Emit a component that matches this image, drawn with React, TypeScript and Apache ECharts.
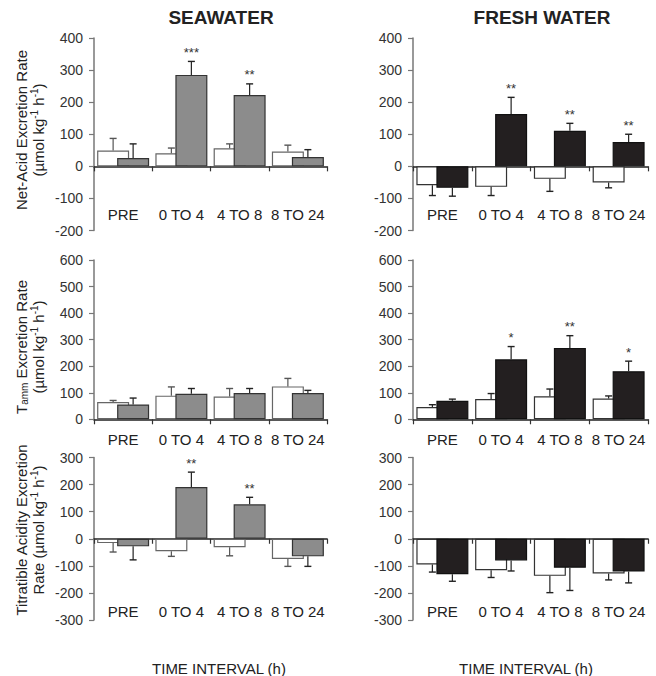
import React, { useEffect, useRef } from 'react';
import * as echarts from 'echarts';

// ---------- data ----------
const categories = ['PRE', '0 TO 4', '4 TO 8', '8 TO 24'];

const naeRange = [-200, 400];
const tammRange = [0, 600];
const taRange = [-300, 300];

// Seawater – net-acid excretion
const swNaeControl = [49, 41, 56, 46];
const swNaeControlErr = [38, 16, 14, 20];
const swNaeTreated = [26, 285, 222, 29];
const swNaeTreatedErr = [44, 42, 35, 23];
const swNaeStars = ['', '***', '**', ''];

// Fresh water – net-acid excretion
const fwNaeControl = [-59, -64, -39, -50];
const fwNaeControlErr = [32, 27, 39, 17];
const fwNaeTreated = [-67, 163, 111, 76];
const fwNaeTreatedErr = [26, 52, 23, 24];
const fwNaeStars = ['', '**', '**', '**'];

// Seawater – Tamm excretion
const swTammControl = [65, 89, 86, 124];
const swTammControlErr = [6, 33, 30, 30];
const swTammTreated = [56, 96, 99, 99];
const swTammTreatedErr = [24, 20, 17, 10];
const swTammStars = ['', '', '', ''];

// Fresh water – Tamm excretion
const fwTammControl = [46, 76, 87, 78];
const fwTammControlErr = [9, 21, 27, 10];
const fwTammTreated = [70, 226, 269, 181];
const fwTammTreatedErr = [6, 48, 46, 38];
const fwTammStars = ['', '*', '**', '*'];

// Seawater – titratable acidity
const swTaControl = [-16, -46, -31, -75];
const swTaControlErr = [33, 19, 32, 27];
const swTaTreated = [-28, 191, 127, -65];
const swTaTreatedErr = [50, 55, 26, 37];
const swTaStars = ['', '**', '**', ''];

// Fresh water – titratable acidity
const fwTaControl = [-95, -116, -137, -128];
const fwTaControlErr = [28, 27, 62, 24];
const fwTaTreated = [-131, -80, -107, -121];
const fwTaTreatedErr = [26, 39, 84, 42];
const fwTaStars = ['', '', '', ''];

const columnTitles = ['SEAWATER', 'FRESH WATER'];
const xAxisTitle = 'TIME INTERVAL (h)';

// ---------- layout ----------
const FONT = '"Liberation Sans", Arial, Helvetica, sans-serif';
const colLeft = [94, 413];
const colWidth = [233, 235];
const rowTop = [38, 260, 457.5];
const rowHeight = [192.5, 159.3, 162.5];
const labelMargin = [-24, 13, -16];

const panels = [
  { col: 0, row: 0, range: naeRange, ctrl: swNaeControl, ctrlErr: swNaeControlErr, trt: swNaeTreated, trtErr: swNaeTreatedErr, stars: swNaeStars },
  { col: 1, row: 0, range: naeRange, ctrl: fwNaeControl, ctrlErr: fwNaeControlErr, trt: fwNaeTreated, trtErr: fwNaeTreatedErr, stars: fwNaeStars },
  { col: 0, row: 1, range: tammRange, ctrl: swTammControl, ctrlErr: swTammControlErr, trt: swTammTreated, trtErr: swTammTreatedErr, stars: swTammStars },
  { col: 1, row: 1, range: tammRange, ctrl: fwTammControl, ctrlErr: fwTammControlErr, trt: fwTammTreated, trtErr: fwTammTreatedErr, stars: fwTammStars },
  { col: 0, row: 2, range: taRange, ctrl: swTaControl, ctrlErr: swTaControlErr, trt: swTaTreated, trtErr: swTaTreatedErr, stars: swTaStars },
  { col: 1, row: 2, range: taRange, ctrl: fwTaControl, ctrlErr: fwTaControlErr, trt: fwTaTreated, trtErr: fwTaTreatedErr, stars: fwTaStars },
];

function buildOption() {
  const grid: any[] = [];
  const xAxis: any[] = [];
  const yAxis: any[] = [];
  const series: any[] = [];

  panels.forEach((p, i) => {
    const dark = p.col === 1;
    grid.push({ left: colLeft[p.col], top: rowTop[p.row], width: colWidth[p.col], height: rowHeight[p.row], containLabel: false });
    // zero line axis with ticks
    xAxis.push({
      type: 'category', gridIndex: i, data: categories, position: 'top',
      axisLine: { show: true, onZero: true, lineStyle: { color: '#222', width: 1.5 } },
      axisTick: { show: true, inside: true, length: 5, lineStyle: { color: '#333', width: 1.2 } },
      axisLabel: { show: false }, splitLine: { show: false },
    });
    // label axis
    xAxis.push({
      type: 'category', gridIndex: i, data: categories, position: 'bottom',
      axisLine: { show: false, onZero: false }, axisTick: { show: false }, splitLine: { show: false },
      axisLabel: { show: true, interval: 0, margin: labelMargin[p.row], fontSize: 15, color: '#222', fontFamily: FONT },
    });
    yAxis.push({
      type: 'value', gridIndex: i, min: p.range[0], max: p.range[1], interval: 100,
      axisLine: { show: true, onZero: false, lineStyle: { color: '#777', width: 1.5 } },
      axisTick: { show: true, length: 5, lineStyle: { color: '#777', width: 1.2 } },
      axisLabel: { margin: 11, fontSize: 14, color: '#333', fontFamily: FONT },
      splitLine: { show: false },
    });
    series.push({
      type: 'bar', xAxisIndex: 2 * i, yAxisIndex: i, data: p.ctrl, barWidth: 32, barGap: '-37.5%',
      itemStyle: { color: '#ffffff', borderColor: dark ? '#333' : '#666', borderWidth: 1.2 }, z: 2,
    });
    series.push({
      type: 'bar', xAxisIndex: 2 * i, yAxisIndex: i, data: p.trt, barWidth: 32, barGap: '-37.5%',
      itemStyle: { color: dark ? '#231f20' : '#8c8c8c', borderColor: dark ? '#111' : '#333', borderWidth: 1.2 }, z: 2,
    });
    const errData: number[][] = [];
    p.ctrl.forEach((v, j) => errData.push([j, v, p.ctrlErr[j], 0]));
    p.trt.forEach((v, j) => errData.push([j, v, p.trtErr[j], 1]));
    const stars = p.stars;
    series.push({
      type: 'custom', xAxisIndex: 2 * i, yAxisIndex: i, data: errData, z: 5, clip: false,
      renderItem: (params: any, api: any) => {
        const j = api.value(0);
        const v = api.value(1);
        const e = api.value(2);
        const s = api.value(3);
        const p0 = api.coord([j, v]);
        const p1 = api.coord([j, v >= 0 ? v + e : v - e]);
        const x = p0[0] + (s === 0 ? -10 : 10);
        const col = s === 0 && !dark ? '#555' : '#222';
        const children: any[] = [
          { type: 'line', shape: { x1: x, y1: p0[1], x2: x, y2: p1[1] }, style: { stroke: col, lineWidth: 1.2 } },
          { type: 'line', shape: { x1: x - 3.5, y1: p1[1], x2: x + 3.5, y2: p1[1] }, style: { stroke: col, lineWidth: 1.4 } },
        ];
        if (s === 1 && stars[j]) {
          children.push({
            type: 'text', x: x, y: p1[1] - 9,
            style: { text: stars[j], fontSize: 13, fontFamily: FONT, fill: '#333', align: 'center', verticalAlign: 'middle' },
          });
        }
        return { type: 'group', children };
      },
    });
  });

  const supRich = {
    t: { fontSize: 15, lineHeight: 17, fontFamily: FONT, fill: '#222', color: '#222' },
    sup: { fontSize: 10, lineHeight: 10, fontFamily: FONT, fill: '#222', color: '#222', verticalAlign: 'top' },
    sub: { fontSize: 10, lineHeight: 10, fontFamily: FONT, fill: '#222', color: '#222', verticalAlign: 'bottom' },
  };

  const yNames = [
    { x: 29.5, y: 130, text: '{t|Net-Acid Excretion Rate}\n{t|(µmol kg}{sup|-1}{t| h}{sup|-1}{t|)}' },
    { x: 29.5, y: 347, text: '{t|T}{sub|amm}{t| Excretion Rate}\n{t|(µmol kg}{sup|-1}{t| h}{sup|-1}{t|)}' },
    { x: 29.5, y: 530, text: '{t|Titratible Acidity Excretion}\n{t|Rate (µmol kg}{sup|-1}{t| h}{sup|-1}{t|)}' },
  ];

  const graphic: any[] = [];
  columnTitles.forEach((t, c) => {
    graphic.push({
      type: 'text', x: [221, 542][c], y: 17,
      style: { text: t, fontSize: 19, fontWeight: 'bold', fontFamily: FONT, fill: '#222', align: 'center', verticalAlign: 'middle' },
    });
    graphic.push({
      type: 'text', x: [219, 526][c], y: 668,
      style: { text: xAxisTitle, fontSize: 15, fontFamily: FONT, fill: '#222', align: 'center', verticalAlign: 'middle' },
    });
  });
  yNames.forEach((n) => {
    graphic.push({
      type: 'text', x: n.x, y: n.y, rotation: Math.PI / 2,
      style: { text: n.text, rich: supRich, fontSize: 15, fontFamily: FONT, fill: '#222', align: 'center', verticalAlign: 'middle' },
    });
  });

  return {
    animation: false,
    backgroundColor: '#ffffff',
    textStyle: { fontFamily: FONT },
    grid, xAxis, yAxis, series, graphic,
  };
}

export default function App() {
  const ref = useRef<HTMLDivElement>(null);
  useEffect(() => {
    if (!ref.current) return;
    const chart = echarts.init(ref.current, undefined, { renderer: 'svg' });
    chart.setOption(buildOption() as any);
    return () => chart.dispose();
  }, []);
  return <div ref={ref} style={{ position: 'absolute', left: 0, top: 0, width: 656, height: 676 }} />;
}
